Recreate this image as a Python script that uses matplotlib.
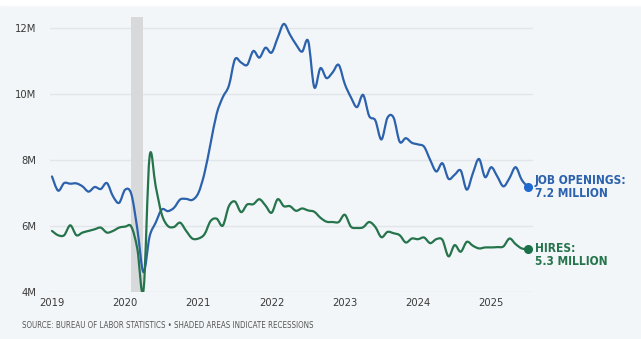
import numpy as np
import matplotlib
matplotlib.use("Agg")
import matplotlib.pyplot as plt
from matplotlib.path import Path
from matplotlib.patches import PathPatch

# Monthly JOLTS estimates, Jan 2019 through Jul 2025 (millions)
start_year = 2019
job_openings = [
    7.50, 7.07, 7.30, 7.28, 7.29, 7.20, 7.04, 7.18, 7.12, 7.30, 6.90, 6.70,
    7.10, 6.97, 5.90, 4.60, 5.68, 6.10, 6.50, 6.45, 6.55, 6.80, 6.82, 6.79,
    7.00, 7.60, 8.50, 9.40, 9.90, 10.25, 11.05, 10.95, 10.88, 11.30, 11.10, 11.40,
    11.25, 11.70, 12.12, 11.80, 11.50, 11.28, 11.60, 10.20, 10.78, 10.48, 10.65, 10.88,
    10.30, 9.90, 9.60, 9.97, 9.33, 9.20, 8.62, 9.28, 9.28, 8.55, 8.66, 8.52,
    8.47, 8.40, 8.00, 7.65, 7.90, 7.43, 7.55, 7.68, 7.10, 7.60, 8.03, 7.48,
    7.78, 7.50, 7.20, 7.45, 7.78, 7.40, 7.18,
]
hires = [
    5.85, 5.72, 5.72, 6.02, 5.72, 5.80, 5.85, 5.90, 5.95, 5.80, 5.85, 5.95,
    5.98, 5.98, 5.30, 4.05, 8.10, 7.20, 6.35, 6.00, 5.97, 6.10, 5.85, 5.62,
    5.62, 5.75, 6.15, 6.22, 6.01, 6.60, 6.74, 6.42, 6.65, 6.66, 6.81, 6.62,
    6.40, 6.81, 6.60, 6.60, 6.46, 6.53, 6.47, 6.43, 6.25, 6.13, 6.12, 6.12,
    6.34, 5.98, 5.94, 5.96, 6.12, 5.97, 5.66, 5.82, 5.78, 5.72, 5.50, 5.62,
    5.60, 5.65, 5.48, 5.60, 5.58, 5.08, 5.42, 5.22, 5.52, 5.40, 5.32, 5.35,
    5.35, 5.36, 5.38, 5.62, 5.45, 5.32, 5.30,
]
recession = (2020 + 1 / 12, 2020 + 3 / 12)
year_ticks = [2019, 2020, 2021, 2022, 2023, 2024, 2025]
value_ticks = [4, 6, 8, 10, 12]
value_labels = ["4M", "6M", "8M", "10M", "12M"]
openings_label = "JOB OPENINGS:\n7.2 MILLION"
hires_label = "HIRES:\n5.3 MILLION"
source_note = "SOURCE: BUREAU OF LABOR STATISTICS \u2022 SHADED AREAS INDICATE RECESSIONS"

BLUE = "#2c62ad"
BLUE_DOT = "#1f6ad0"
GREEN = "#25744c"
GREEN_DOT = "#1b7048"
PANEL = "#f3f6f8"
GRID = "#e2e6ea"
TEXT = "#3a3a3a"

months = start_year + np.arange(len(job_openings)) / 12.0


def smooth_path(x, y):
    """Cubic Bezier path passing through every point (Catmull-Rom tangents)."""
    pts = np.column_stack([x, y])
    padded = np.vstack([pts[0], pts, pts[-1]])
    verts = [pts[0]]
    codes = [Path.MOVETO]
    for i in range(len(pts) - 1):
        p0, p1, p2, p3 = padded[i], padded[i + 1], padded[i + 2], padded[i + 3]
        c1 = p1 + (p2 - p0) / 6.0
        c2 = p2 - (p3 - p1) / 6.0
        verts += [c1, c2, p2]
        codes += [Path.CURVE4] * 3
    return Path(np.array(verts), codes)


W, H = 641, 339
fig = plt.figure(figsize=(W / 100, H / 100), dpi=100)
fig.patch.set_facecolor(PANEL)
# white strip along the top edge
fig.add_artist(plt.Rectangle((0, 1 - 5 / H), 1, 5 / H, transform=fig.transFigure,
                             color="white", zorder=0))

ax = fig.add_axes([50 / W, (H - 292) / H, 483 / W, 275 / H])
ax.set_facecolor(PANEL)
for s in ax.spines.values():
    s.set_visible(False)

ax.set_xlim(2018.973, 2025.571)
ax.set_ylim(4, 12.33)

ax.set_yticks(value_ticks)
ax.set_yticklabels(value_labels)
ax.set_xticks(year_ticks)
ax.set_xticklabels([str(y) for y in year_ticks])
ax.grid(axis="y", color=GRID, linewidth=1.0)
ax.grid(axis="x", visible=False)
ax.set_axisbelow(True)
ax.tick_params(axis="both", length=0, colors=TEXT)
ax.tick_params(axis="y", pad=10)
ax.tick_params(axis="x", pad=4)
for lab in ax.get_xticklabels() + ax.get_yticklabels():
    lab.set_fontfamily("DejaVu Sans")
    lab.set_fontstretch("condensed")
    lab.set_fontsize(8)
    lab.set_color(TEXT)

ax.axvspan(recession[0], recession[1], color="#d8d9db", zorder=1, lw=0)

for series, color in ((job_openings, BLUE), (hires, GREEN)):
    ax.add_patch(PathPatch(smooth_path(months, series), facecolor="none",
                           edgecolor=color, lw=1.6, joinstyle="round",
                           capstyle="round", zorder=3))

ax.plot(months[-1], job_openings[-1], "o", color=BLUE_DOT, ms=5.5, zorder=4, clip_on=False)
ax.plot(months[-1], hires[-1], "o", color=GREEN_DOT, ms=5.5, zorder=4, clip_on=False)

ax.annotate(openings_label, (months[-1], job_openings[-1]), xytext=(5, 0),
            textcoords="offset points", ha="left", va="center",
            fontfamily="DejaVu Sans", fontstretch="condensed", fontweight="bold",
            fontsize=8.6, color=BLUE, linespacing=0.95, annotation_clip=False)
ax.annotate(hires_label, (months[-1], hires[-1]), xytext=(5, 5),
            textcoords="offset points", ha="left", va="top",
            fontfamily="DejaVu Sans", fontstretch="condensed", fontweight="bold",
            fontsize=8.6, color=GREEN, linespacing=0.95, annotation_clip=False)

fig.text(22 / W, 1 - 325 / H, source_note, ha="left", va="center",
         fontfamily="DejaVu Sans", fontstretch="condensed", fontsize=5.7, color="#555555")

fig.savefig("out.png", dpi=100, facecolor=fig.get_facecolor())
